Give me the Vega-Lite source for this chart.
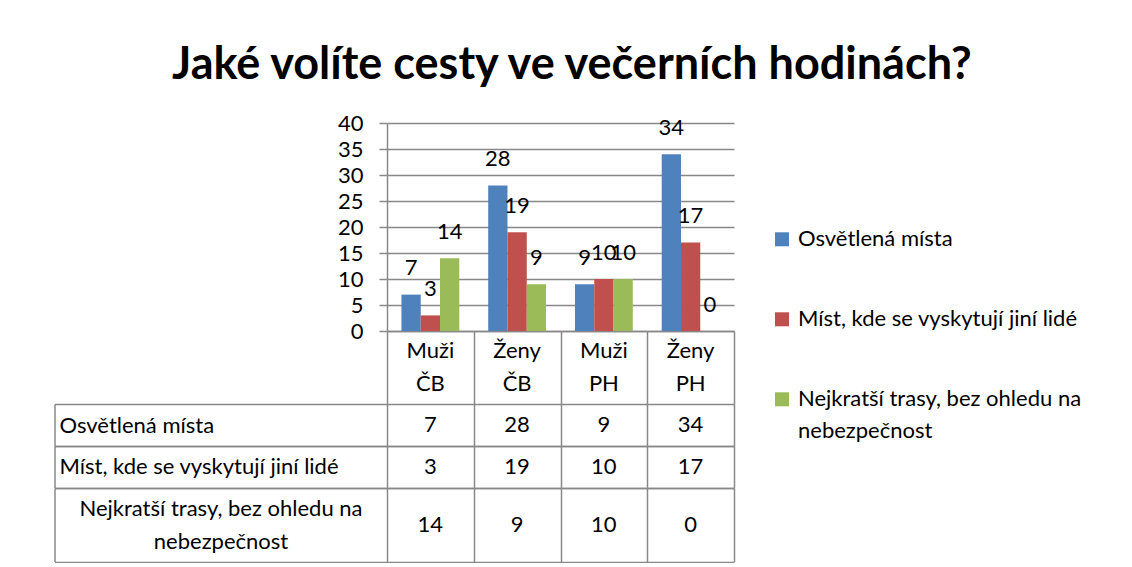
{
  "$schema": "https://vega.github.io/schema/vega-lite/v6.json",
  "background": "white",
  "padding": {"left": 53, "top": 43, "right": 0, "bottom": 0},
  "bounds": "flush",
  "spacing": 0,
  "title": {
    "text": "Jaké volíte cesty ve večerních hodinách?",
    "font": "Lato",
    "fontSize": 45,
    "fontWeight": "bold",
    "color": "black",
    "anchor": "middle",
    "offset": 24,
    "dx": 4
  },
  "config": {
    "view": {"stroke": null},
    "font": "Lato",
    "axis": {"labelFont": "Lato", "labelColor": "black", "labelFontSize": 22, "titleFont": "Lato"},
    "legend": {"labelFont": "Lato"}
  },
  "datasets": {
    "d": [
      {"cat": "Muži ČB", "series": "Osvětlená místa", "value": 7},
      {"cat": "Muži ČB", "series": "Míst, kde se vyskytují jiní lidé", "value": 3},
      {"cat": "Muži ČB", "series": "Nejkratší trasy, bez ohledu na nebezpečnost", "value": 14},
      {"cat": "Ženy ČB", "series": "Osvětlená místa", "value": 28},
      {"cat": "Ženy ČB", "series": "Míst, kde se vyskytují jiní lidé", "value": 19},
      {"cat": "Ženy ČB", "series": "Nejkratší trasy, bez ohledu na nebezpečnost", "value": 9},
      {"cat": "Muži PH", "series": "Osvětlená místa", "value": 9},
      {"cat": "Muži PH", "series": "Míst, kde se vyskytují jiní lidé", "value": 10},
      {"cat": "Muži PH", "series": "Nejkratší trasy, bez ohledu na nebezpečnost", "value": 10},
      {"cat": "Ženy PH", "series": "Osvětlená místa", "value": 34},
      {"cat": "Ženy PH", "series": "Míst, kde se vyskytují jiní lidé", "value": 17},
      {"cat": "Ženy PH", "series": "Nejkratší trasy, bez ohledu na nebezpečnost", "value": 0}
    ]
  },
  "vconcat": [
    {
      "width": 347,
      "height": 208,
      "data": {"name": "d"},
      "encoding": {
        "x": {
          "field": "cat", "type": "nominal",
          "sort": ["Muži ČB", "Ženy ČB", "Muži PH", "Ženy PH"],
          "scale": {"paddingInner": 0, "paddingOuter": 0},
          "axis": {
            "title": null, "labels": false, "ticks": false,
            "domainColor": "#888888", "domainWidth": 1.5
          }
        },
        "xOffset": {
          "field": "series", "type": "nominal",
          "sort": ["Osvětlená místa", "Míst, kde se vyskytují jiní lidé", "Nejkratší trasy, bez ohledu na nebezpečnost"],
          "scale": {"paddingInner": 0, "paddingOuter": 0.75}
        },
        "y": {
          "field": "value", "type": "quantitative",
          "scale": {"domain": [0, 40], "nice": false},
          "axis": {
            "title": null, "values": [0, 5, 10, 15, 20, 25, 30, 35, 40],
            "grid": true, "gridColor": "#888888", "gridWidth": 1.5,
            "domainColor": "#888888", "domainWidth": 1.5,
            "tickColor": "#888888", "tickWidth": 1.5, "tickSize": 8,
            "labelPadding": 16, "labelFontSize": 22
          }
        }
      },
      "layer": [
        {
          "mark": {"type": "bar"},
          "encoding": {
            "color": {
              "field": "series", "type": "nominal",
              "sort": ["Osvětlená místa", "Míst, kde se vyskytují jiní lidé", "Nejkratší trasy, bez ohledu na nebezpečnost"],
              "scale": {"range": ["#4F81BD", "#C0504D", "#9BBB59"]},
              "legend": {
                "title": null, "orient": "none", "legendX": 384, "legendY": 105.3,
                "symbolType": "square", "symbolSize": 196, "symbolStrokeWidth": 0,
                "labelFontSize": 22, "labelColor": "black", "labelLimit": 500,
                "labelOffset": 5, "rowPadding": 58,
                "labelExpr": "datum.label == 'Nejkratší trasy, bez ohledu na nebezpečnost' ? ['Nejkratší trasy, bez ohledu na', 'nebezpečnost'] : datum.label",
                "encode": {"labels": {"update": {"lineHeight": {"value": 32}}}}
              }
            }
          }
        },
        {
          "mark": {"type": "text", "dy": -26.5, "baseline": "middle", "fontSize": 22, "color": "black"},
          "encoding": {"text": {"field": "value", "type": "quantitative"}}
        }
      ]
    },
    {
      "width": 347,
      "height": 73,
      "data": {"name": "d"},
      "transform": [{"filter": "datum.series === 'Osvětlená místa'"}],
      "mark": {"type": "text", "fontSize": 22, "color": "black", "baseline": "middle", "lineBreak": " ", "lineHeight": 33, "dy": -16.5},
      "encoding": {
        "x": {
          "field": "cat", "type": "nominal",
          "sort": ["Muži ČB", "Ženy ČB", "Muži PH", "Ženy PH"],
          "scale": {"paddingInner": 0, "paddingOuter": 0},
          "axis": {"title": null, "labels": false, "ticks": false, "domain": false, "grid": true, "tickBand": "extent", "gridColor": "#888888", "gridWidth": 1.5}
        },
        "text": {"field": "cat", "type": "nominal"}
      }
    },
    {
      "width": 347,
      "height": 42,
      "data": {"name": "d"},
      "transform": [{"filter": "datum.series === 'Osvětlená místa'"}],
      "mark": {"type": "text", "fontSize": 22, "color": "black", "baseline": "middle"},
      "encoding": {
        "x": {
          "field": "cat", "type": "nominal",
          "sort": ["Muži ČB", "Ženy ČB", "Muži PH", "Ženy PH"],
          "scale": {"paddingInner": 0, "paddingOuter": 0},
          "axis": {"title": null, "labels": false, "ticks": false, "domain": false, "grid": true, "tickBand": "extent", "gridColor": "#888888", "gridWidth": 1.5}
        },
        "y": {
          "field": "series", "type": "nominal",
          "scale": {"paddingInner": 0, "paddingOuter": 0},
          "axis": {
            "title": null, "offset": 332.5, "domainColor": "#888888", "domainWidth": 1.5,
            "tickBand": "extent", "tickSize": -679.5, "tickColor": "#888888", "tickWidth": 1.5,
            "labelAlign": "left", "labelPadding": 675, "labelLimit": 500, "labelFontSize": 22
          }
        },
        "text": {"field": "value", "type": "quantitative"}
      }
    },
    {
      "width": 347,
      "height": 41.5,
      "data": {"name": "d"},
      "transform": [{"filter": "datum.series === 'Míst, kde se vyskytují jiní lidé'"}],
      "mark": {"type": "text", "fontSize": 22, "color": "black", "baseline": "middle"},
      "encoding": {
        "x": {
          "field": "cat", "type": "nominal",
          "sort": ["Muži ČB", "Ženy ČB", "Muži PH", "Ženy PH"],
          "scale": {"paddingInner": 0, "paddingOuter": 0},
          "axis": {"title": null, "labels": false, "ticks": false, "domain": false, "grid": true, "tickBand": "extent", "gridColor": "#888888", "gridWidth": 1.5}
        },
        "y": {
          "field": "series", "type": "nominal",
          "scale": {"paddingInner": 0, "paddingOuter": 0},
          "axis": {
            "title": null, "offset": 332.5, "domainColor": "#888888", "domainWidth": 1.5,
            "tickBand": "extent", "tickSize": -679.5, "tickColor": "#888888", "tickWidth": 1.5,
            "labelAlign": "left", "labelPadding": 675, "labelLimit": 500, "labelFontSize": 22
          }
        },
        "text": {"field": "value", "type": "quantitative"}
      }
    },
    {
      "width": 347,
      "height": 73.5,
      "data": {"name": "d"},
      "transform": [{"filter": "datum.series === 'Nejkratší trasy, bez ohledu na nebezpečnost'"}],
      "mark": {"type": "text", "fontSize": 22, "color": "black", "baseline": "middle"},
      "encoding": {
        "x": {
          "field": "cat", "type": "nominal",
          "sort": ["Muži ČB", "Ženy ČB", "Muži PH", "Ženy PH"],
          "scale": {"paddingInner": 0, "paddingOuter": 0},
          "axis": {"title": null, "labels": false, "ticks": false, "domain": false, "grid": true, "tickBand": "extent", "gridColor": "#888888", "gridWidth": 1.5}
        },
        "y": {
          "field": "series", "type": "nominal",
          "scale": {"paddingInner": 0, "paddingOuter": 0},
          "axis": {
            "title": null, "offset": 332.5, "domainColor": "#888888", "domainWidth": 1.5,
            "tickBand": "extent", "tickSize": -679.5, "tickColor": "#888888", "tickWidth": 1.5,
            "labelAlign": "center", "labelPadding": 513.5, "labelLimit": 500, "labelFontSize": 22,
            "labelLineHeight": 33, "labelOffset": -16.5,
            "labelExpr": "datum.label ? ['Nejkratší trasy, bez ohledu na', 'nebezpečnost'] : ''"
          }
        },
        "text": {"field": "value", "type": "quantitative"}
      }
    }
  ]
}
